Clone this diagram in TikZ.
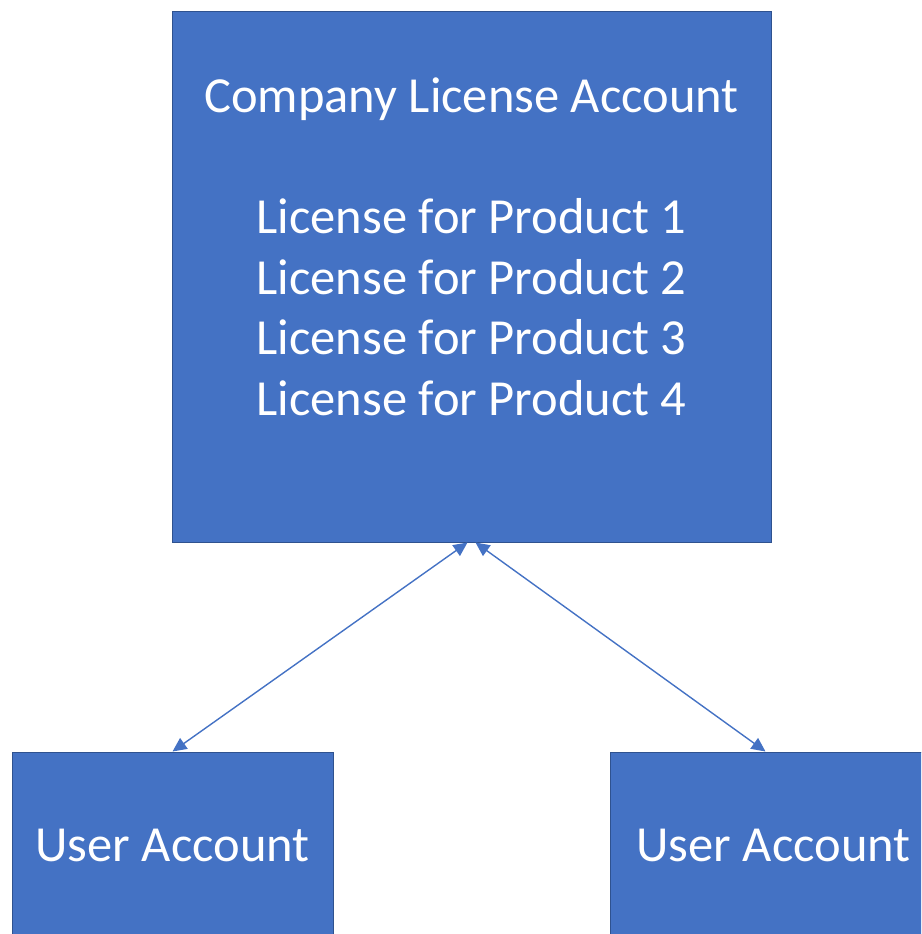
\documentclass[tikz,border=0pt]{standalone}
\usepackage{fontspec}
\setmainfont{Carlito}
\usetikzlibrary{arrows.meta}
\definecolor{boxblue}{HTML}{4472C4}
\definecolor{boxedge}{HTML}{2F528F}
\tikzstyle{blockl} = [rectangle, draw=boxedge, line width=1pt, fill=boxblue, text=white, align=center, minimum width=599pt, minimum height=530pt, font=\fontsize{50.5}{60.5}\selectfont]
\tikzstyle{blocku} = [rectangle, draw=boxedge, line width=1pt, fill=boxblue, text=white, minimum width=321pt, minimum height=186pt, font=\fontsize{50.5}{60.5}\selectfont]
\tikzstyle{line} = [draw=boxblue, line width=1.4pt, {Triangle[length=14pt,width=13pt]}-{Triangle[length=14pt,width=13pt]}]

\begin{document}
\begin{tikzpicture}[x=1pt, y=1pt, node distance=568pt]

\clip (0,0) rectangle (921,-934);

\node [blockl] (L) at (471.5,-277) {Company License Account\\ ~\\ License for Product 1\\ License for Product 2\\ License for Product 3\\ License for Product 4\\ ~};
\node [blocku, below of=L, xshift=-299pt] (U1) {User Account};
\node [blocku, minimum width=327pt, below of=L, xshift=302pt] (U2) {User Account};

\path [line] ([xshift=-4pt]L.south) -- (U1.north);
\path [line] ([xshift=4pt]L.south) -- ([xshift=-8pt]U2.north);

\end{tikzpicture}
\end{document}
